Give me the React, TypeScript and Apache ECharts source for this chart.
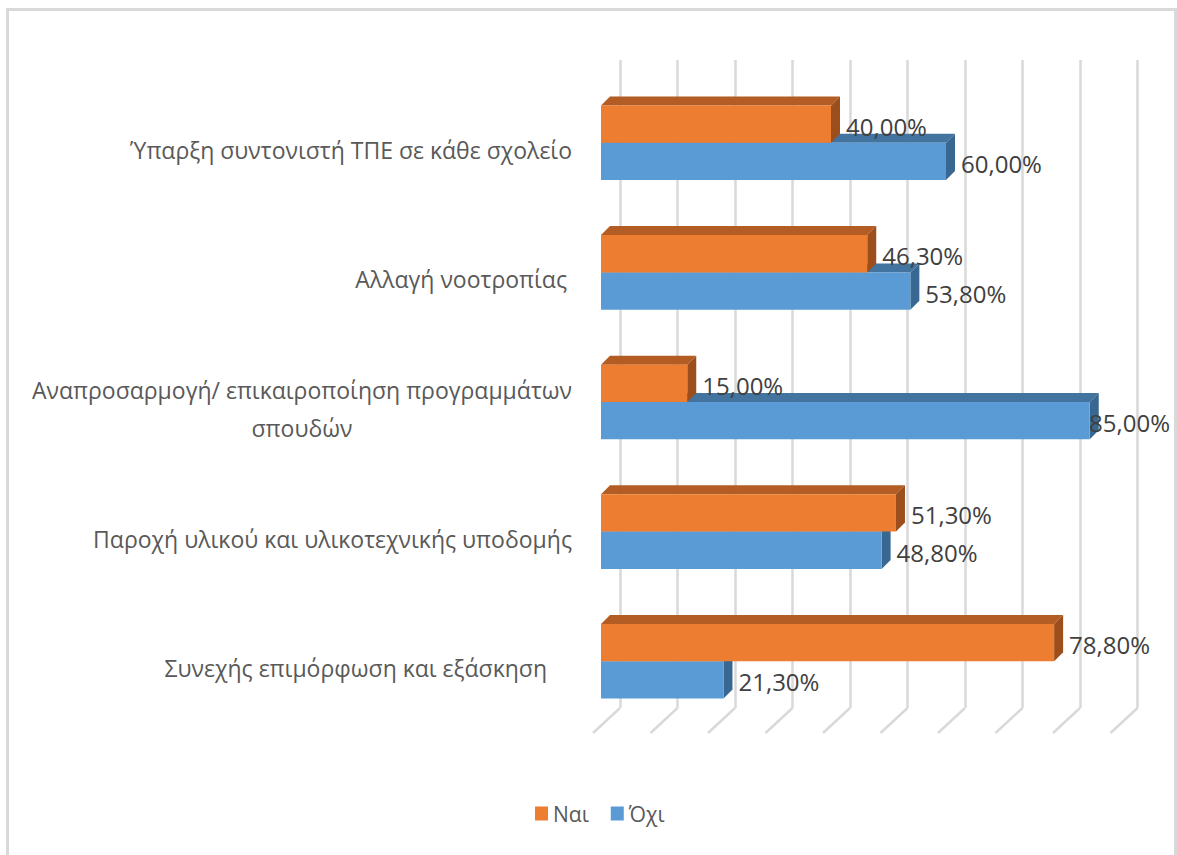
import React, { useEffect, useRef } from "react";
import * as echarts from "echarts";

// Survey answers (percent) per proposal
const categories = [
  "Ύπαρξη συντονιστή ΤΠΕ σε κάθε σχολείο",
  "Αλλαγή νοοτροπίας",
  "Αναπροσαρμογή/ επικαιροποίηση προγραμμάτων\nσπουδών",
  "Παροχή υλικού και υλικοτεχνικής υποδομής",
  "Συνεχής επιμόρφωση και εξάσκηση",
];
const yesValues = [40.0, 46.3, 15.0, 51.3, 78.8];
const noValues = [60.0, 53.8, 85.0, 48.8, 21.3];
const gridTicks = [0, 10, 20, 30, 40, 50, 60, 70, 80, 90];
const seriesNames = ["Ναι", "Όχι"];

// Styling
const FONT = "'Open Sans', 'Noto Sans', sans-serif";
const YES = { front: "#ED7D31", top: "#B35D24", side: "#9C4F1C" };
const NO = { front: "#5B9BD5", top: "#43739F", side: "#386791" };
const GRID_COLOR = "#D9D9D9";
const DEPTH = 9; // bar extrusion, px
const BAR_FRAC = 0.288; // each bar's share of a category band
const FLOOR_DX = -27;
const FLOOR_DY = 25;
const LABEL_GAP = 15;
const LABEL_RIGHT_LIMIT = 1170;
const LABEL_FONT_SIZE = 24;
const CAT_FONT_SIZE = 23;
const labelIndent = [0, 5, 0, 0, 25];

const fmtPct = (v: number) => v.toFixed(2).replace(".", ",") + "%";

let measureCtx: CanvasRenderingContext2D | null = null;
function textWidth(text: string, size: number) {
  if (!measureCtx) measureCtx = document.createElement("canvas").getContext("2d");
  if (!measureCtx) return text.length * size * 0.55;
  measureCtx.font = `${size}px ${FONT}`;
  return measureCtx.measureText(text).width;
}

function makeBarRenderer(upper: boolean, c: { front: string; top: string; side: string }) {
  return (params: any, api: any) => {
    const v = api.value(0);
    const ci = api.value(1);
    const [x1, yc] = api.coord([v, ci]);
    const [x0] = api.coord([0, ci]);
    const band = api.size([0, 1])[1];
    const h = band * BAR_FRAC;
    const yTop = upper ? yc - h : yc;
    const yBot = yTop + h;
    const d = DEPTH;
    const label = fmtPct(v);
    const w = textWidth(label, LABEL_FONT_SIZE);
    let lx = x1 + LABEL_GAP;
    if (lx + w > LABEL_RIGHT_LIMIT) lx = LABEL_RIGHT_LIMIT - w;
    return {
      type: "group",
      children: [
        {
          type: "polygon",
          shape: { points: [[x0, yTop], [x0 + d, yTop - d], [x1 + d, yTop - d], [x1, yTop]] },
          style: { fill: c.top },
        },
        {
          type: "polygon",
          shape: { points: [[x1, yTop], [x1 + d, yTop - d], [x1 + d, yBot - d], [x1, yBot]] },
          style: { fill: c.side },
        },
        {
          type: "rect",
          shape: { x: x0, y: yTop, width: x1 - x0, height: h },
          style: { fill: c.front },
        },
        {
          type: "text",
          z2: 10,
          style: {
            text: label,
            x: lx,
            y: (yTop + yBot) / 2 + 2,
            verticalAlign: "middle",
            align: "left",
            fontSize: LABEL_FONT_SIZE,
            fontFamily: FONT,
            fill: "#404040",
          },
        },
      ],
    };
  };
}

function floorRenderer(params: any, api: any) {
  const [x, y] = api.coord([api.value(0), 0]);
  return {
    type: "line",
    shape: { x1: x, y1: y, x2: x + FLOOR_DX, y2: y + FLOOR_DY },
    style: { stroke: GRID_COLOR, lineWidth: 2.5 },
  };
}

export default function App() {
  const ref = useRef<HTMLDivElement>(null);

  useEffect(() => {
    if (!ref.current) return;
    const chart = echarts.init(ref.current, null, { renderer: "svg" });

    const rich: Record<string, any> = {};
    labelIndent.forEach((p, i) => {
      rich["i" + i] = { padding: [0, p, 0, 0], fontSize: CAT_FONT_SIZE, fontFamily: FONT, color: "#595959" };
    });
    const multi = categories.find((s) => s.includes("\n")) || "";
    const multiW = Math.max(...multi.split("\n").map((s) => textWidth(s, CAT_FONT_SIZE)));
    rich.ml = {
      width: multiW,
      align: "center",
      fontSize: CAT_FONT_SIZE,
      fontFamily: FONT,
      color: "#595959",
      lineHeight: 38,
    };

    const option: any = {
      animation: false,
      backgroundColor: "#FFFFFF",
      graphic: [
        {
          type: "rect",
          shape: { x: 7.5, y: 9.5, width: 1168, height: 900 },
          style: { fill: "none", stroke: GRID_COLOR, lineWidth: 3 },
          silent: true,
          z: -10,
        },
      ],
      legend: {
        data: seriesNames,
        left: 530,
        top: 798,
        icon: "rect",
        itemWidth: 13,
        itemHeight: 14,
        itemGap: 22,
        textStyle: { fontSize: 21, fontFamily: FONT, color: "#595959" },
      },
      grid: [
        { left: 601, top: 78, width: 517.5, height: 648 },
        { left: 620, top: 60, width: 517.5, height: 648 },
      ],
      xAxis: [
        {
          gridIndex: 0,
          type: "value",
          min: 0,
          max: 90,
          interval: 10,
          axisLine: { show: false },
          axisTick: { show: false },
          axisLabel: { show: false },
          splitLine: { show: false },
        },
        {
          gridIndex: 1,
          type: "value",
          min: 0,
          max: 90,
          interval: 10,
          axisLine: { show: false },
          axisTick: { show: false },
          axisLabel: { show: false },
          splitLine: { show: true, lineStyle: { color: GRID_COLOR, width: 2.5 } },
        },
      ],
      yAxis: [
        {
          gridIndex: 0,
          type: "category",
          inverse: true,
          data: categories,
          axisLine: { show: false },
          axisTick: { show: false },
          splitLine: { show: false },
          axisLabel: {
            margin: 29,
            fontSize: CAT_FONT_SIZE,
            fontFamily: FONT,
            color: "#595959",
            padding: [14, 0, 0, 0],
            formatter: (val: string, idx: number) => {
              if (val.includes("\n")) {
                return val
                  .split("\n")
                  .map((s) => `{ml|${s}}`)
                  .join("\n");
              }
              return `{i${idx}|${val}}`;
            },
            rich,
          },
        },
        {
          gridIndex: 1,
          type: "value",
          min: 0,
          max: 1,
          show: false,
        },
      ],
      series: [
        {
          name: seriesNames[0],
          type: "custom",
          xAxisIndex: 0,
          yAxisIndex: 0,
          z: 3,
          clip: false,
          itemStyle: { color: YES.front },
          encode: { x: 0, y: 1 },
          data: yesValues.map((v, i) => [v, i]),
          renderItem: makeBarRenderer(true, YES),
        },
        {
          name: seriesNames[1],
          type: "custom",
          xAxisIndex: 0,
          yAxisIndex: 0,
          z: 2,
          clip: false,
          itemStyle: { color: NO.front },
          encode: { x: 0, y: 1 },
          data: noValues.map((v, i) => [v, i]),
          renderItem: makeBarRenderer(false, NO),
        },
        {
          name: "floor",
          type: "custom",
          xAxisIndex: 1,
          yAxisIndex: 1,
          z: 1,
          clip: false,
          silent: true,
          encode: { x: 0, y: 1 },
          data: gridTicks.map((t) => [t, 0]),
          renderItem: floorRenderer,
        },
      ],
    };

    chart.setOption(option);
    return () => chart.dispose();
  }, []);

  return (
    <div
      ref={ref}
      style={{ position: "absolute", left: 0, top: 0, width: 1177, height: 855 }}
    />
  );
}
